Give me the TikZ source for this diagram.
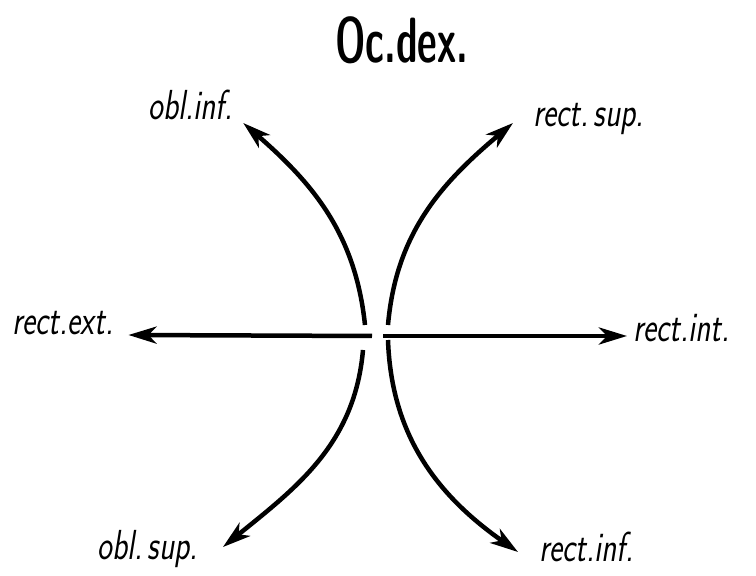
\documentclass[tikz,border=0pt]{standalone}
\usetikzlibrary{arrows.meta}

% narrow hand lettering
\newcommand{\hand}[2][0.75]{\scalebox{#1}[1]{#2}}

\begin{document}
\begin{tikzpicture}[
		x=1pt, y=1pt,
		every node/.style = {font=\sffamily\itshape\fontsize{42}{46}\selectfont, inner sep=0pt},
		title/.style = {font=\sffamily\bfseries\fontsize{64}{70}\selectfont},
		muscle/.style = {line width=4.5pt, -{Stealth[length=28pt,width=17pt,inset=8pt]}}
	]
	\useasboundingbox (0,0) rectangle (756,576);

	\node[title, anchor=base west] (ocdex) at (335,513) {\hand[0.6]{Oc.dex.}};
	\node[anchor=base west] (oblinf) at (148,456) {\hand{obl.inf.}};
	\node[anchor=base west] (rectsup) at (533,449) {\hand{rect.\,sup.}};
	\node[anchor=base west] (rectext) at (12,241) {\hand{rect.ext.}};
	\node[anchor=base west] (rectint) at (633,234) {\hand{rect.int.}};
	\node[anchor=base west] (oblsup) at (97,16) {\hand{obl.\,sup.}};
	\node[anchor=base west] (rectinf) at (539,14) {\hand{rect.inf.}};

	% ends near the centre, with the small gap
	\coordinate (ul) at (365,251);
	\coordinate (ur) at (388,251);
	\coordinate (ml) at (372,240);
	\coordinate (mr) at (383,240);
	\coordinate (ll) at (363,226);
	\coordinate (lr) at (388,236);

	\draw[muscle] (ul) to[out=96, in=-41] ([shift={(10,-3)}]oblinf.base east);
	\draw[muscle] (ur) to[out=85, in=220] ([shift={(-20,4)}]rectsup.base west);
	\draw[muscle] (ml) -- ([shift={(15,0)}]rectext.base east);
	\draw[muscle] (mr) -- ([shift={(-6,6)}]rectint.base west);
	\draw[muscle] (ll) to[out=-95, in=39] ([shift={(25,13)}]oblsup.base east);
	\draw[muscle] (lr) to[out=-88, in=145] ([shift={(-21,10)}]rectinf.base west);
\end{tikzpicture}
\end{document}
